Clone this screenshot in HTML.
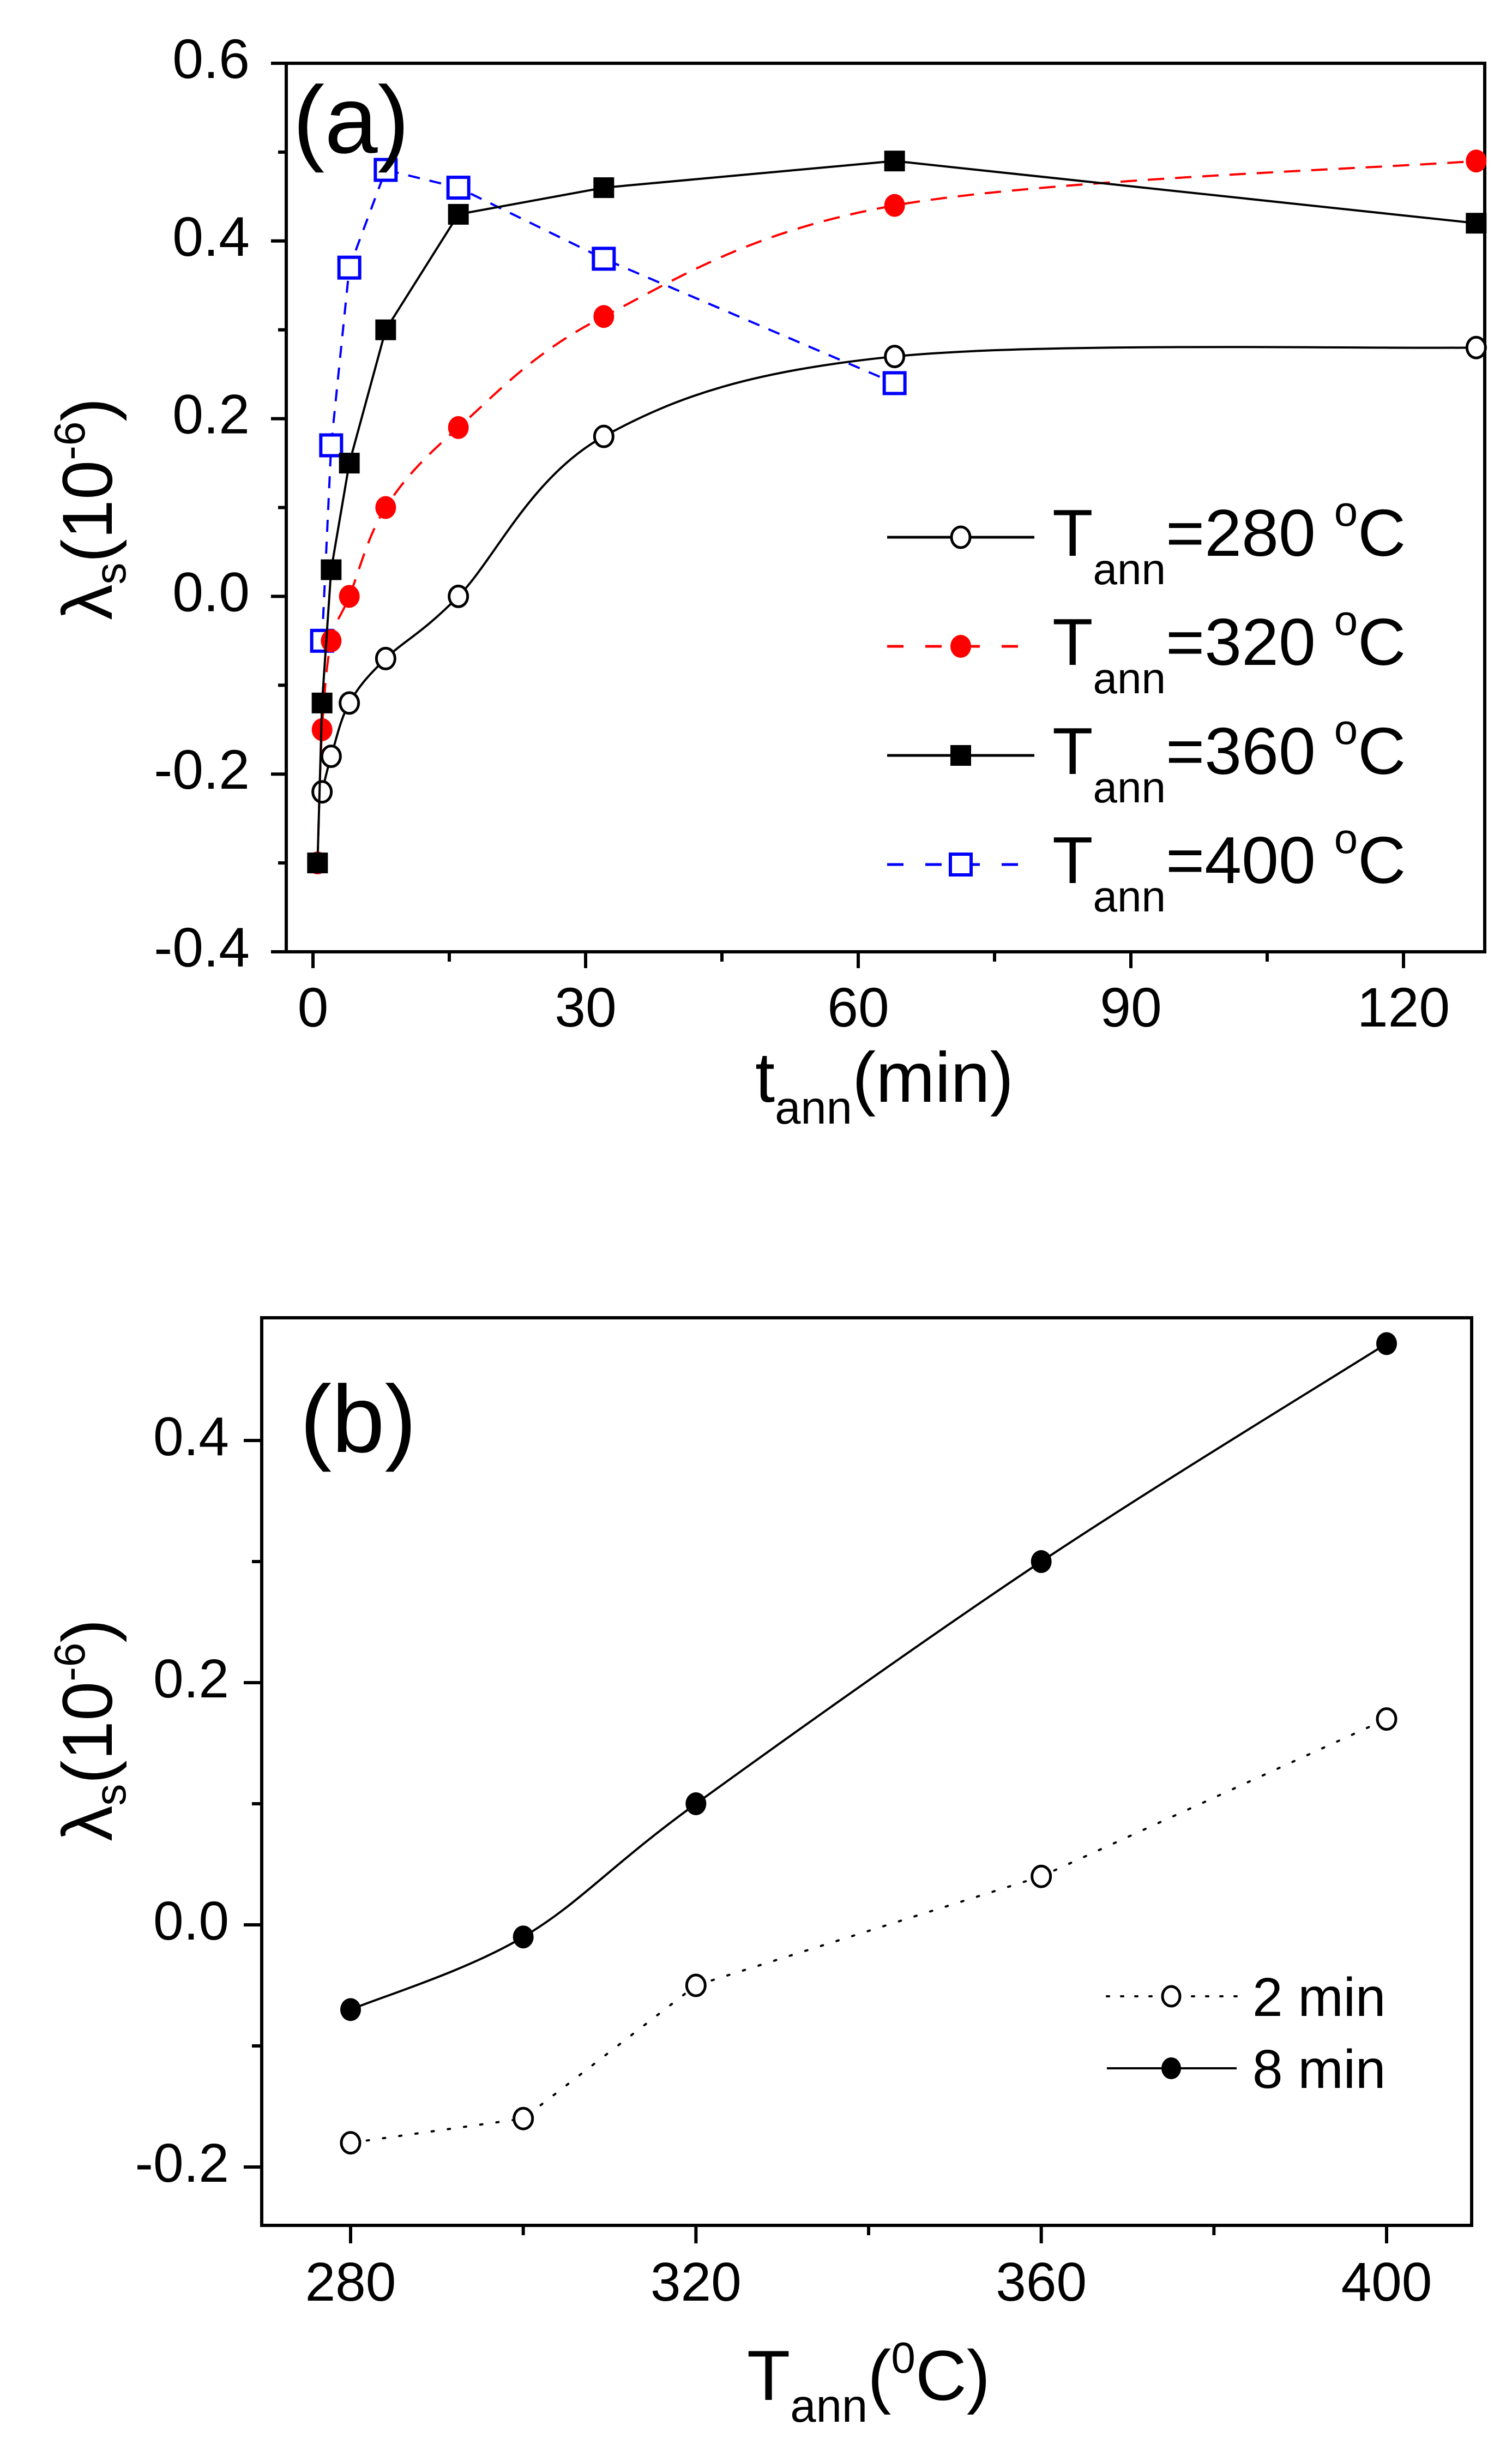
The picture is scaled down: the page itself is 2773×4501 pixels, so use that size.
<!DOCTYPE html>
<html><head><meta charset="utf-8">
<style>
html,body{margin:0;padding:0;background:#fff;}
svg{display:block;}
text{font-family:"Liberation Sans",Arial,sans-serif;fill:#000;}
</style></head>
<body>
<svg id="fig" width="2773" height="4501" viewBox="0 0 2773 4501" xmlns="http://www.w3.org/2000/svg">
<rect width="2773" height="4501" fill="#fff"/>
<g id="pa"></g>
<g id="pb"></g>
</svg>
<script>
// ---------- Panel (a) data ----------
const tA280 = [1, 2, 4, 8, 16, 32, 64, 128];
const yA280 = [-0.22, -0.18, -0.12, -0.07, 0.0, 0.18, 0.27, 0.28];
const tA320 = [0.5, 1, 2, 4, 8, 16, 32, 64, 128];
const yA320 = [-0.30, -0.15, -0.05, 0.0, 0.10, 0.19, 0.315, 0.44, 0.49];
const tA360 = [0.5, 1, 2, 4, 8, 16, 32, 64, 128];
const yA360 = [-0.30, -0.12, 0.03, 0.15, 0.30, 0.43, 0.46, 0.49, 0.42];
const tA400 = [1, 2, 4, 8, 16, 32, 64];
const yA400 = [-0.05, 0.17, 0.37, 0.48, 0.46, 0.38, 0.24];
const xTicksA = [0, 30, 60, 90, 120];
const yTicksA = [-0.4, -0.2, 0.0, 0.2, 0.4, 0.6];
const yTickLabelsA = ["-0.4", "-0.2", "0.0", "0.2", "0.4", "0.6"];
// ---------- Panel (b) data ----------
const tempB = [280, 300, 320, 360, 400];
const yB2 = [-0.18, -0.16, -0.05, 0.04, 0.17];
const yB8 = [-0.07, -0.01, 0.10, 0.30, 0.48];
const xTicksB = [280, 320, 360, 400];
const yTicksB = [-0.2, 0.0, 0.2, 0.4];
const yTickLabelsB = ["-0.2", "0.0", "0.2", "0.4"];

const NS = "http://www.w3.org/2000/svg";
function mk(parent, tag, attrs) {
  const e = document.createElementNS(NS, tag);
  for (const k in attrs) e.setAttribute(k, attrs[k]);
  parent.appendChild(e);
  return e;
}
// axis functions
const xA = t => 574 + t * (2000 / 120);
const yA = v => 116 + (0.6 - v) * 1629;
const xB = T => 643 + (T - 280) * (1900 / 120);
const yB = v => 2641 + (0.4 - v) * 2220;

function smoothPath(pts) {
  let d = "M" + pts[0][0] + "," + pts[0][1];
  for (let i = 0; i < pts.length - 1; i++) {
    const p0 = pts[i - 1] || pts[i], p1 = pts[i], p2 = pts[i + 1], p3 = pts[i + 2] || p2;
    const c1x = p1[0] + (p2[0] - p0[0]) / 6, c1y = p1[1] + (p2[1] - p0[1]) / 6;
    const c2x = p2[0] - (p3[0] - p1[0]) / 6, c2y = p2[1] - (p3[1] - p1[1]) / 6;
    d += " C" + c1x + "," + c1y + " " + c2x + "," + c2y + " " + p2[0] + "," + p2[1];
  }
  return d;
}
function linePath(pts) { return "M" + pts.map(p => p[0] + "," + p[1]).join(" L"); }

function marker(g, kind, x, y, color, s) {
  let e;
  if (kind === "osq") e = mk(g, "rect", {x: x - s / 2, y: y - s / 2, width: s, height: s, fill: "#fff", stroke: color, "stroke-width": 6});
  else if (kind === "fsq") e = mk(g, "rect", {x: x - s / 2, y: y - s / 2, width: s, height: s, fill: color});
  else if (kind === "oc") e = mk(g, "ellipse", {cx: x, cy: y, rx: s / 2 - 2, ry: s / 2, fill: "#fff", stroke: color, "stroke-width": 5});
  else e = mk(g, "ellipse", {cx: x, cy: y, rx: s / 2, ry: s / 2 + 2, fill: color});
  return e;
}

// ================= Panel A =================
const pa = document.getElementById("pa");
const frameA = mk(pa, "rect", {x: 525, y: 116, width: 2198, height: 1629, fill: "none", stroke: "#000", "stroke-width": 6});


yTicksA.forEach((v, i) => {
  const t = mk(pa, "line", {x1: 497, x2: 525, y1: yA(v), y2: yA(v), stroke: "#000", "stroke-width": 6});
  
  
  if (i < yTicksA.length - 1) {
    const m = mk(pa, "line", {x1: 510, x2: 525, y1: yA(v + 0.1), y2: yA(v + 0.1), stroke: "#000", "stroke-width": 6});
    
    
  }
  const l = mk(pa, "text", {x: 458, y: yA(v) + 27, "font-size": 102, "text-anchor": "end"});
  l.textContent = yTickLabelsA[i];
  
  
});
xTicksA.forEach((v, i) => {
  const t = mk(pa, "line", {x1: xA(v), x2: xA(v), y1: 1745, y2: 1775, stroke: "#000", "stroke-width": 6});
  
  
  const m = mk(pa, "line", {x1: xA(v + 15), x2: xA(v + 15), y1: 1745, y2: 1763, stroke: "#000", "stroke-width": 6});
  
  
  const l = mk(pa, "text", {x: xA(v), y: 1882, "font-size": 102, "text-anchor": "middle"});
  l.textContent = String(v);
  
  
});
// series A
const seriesA = [
  {name: "series-280C", t: tA280, y: yA280, color: "#000", dash: "", kind: "oc", smooth: true},
  {name: "series-400C", t: tA400, y: yA400, color: "#0000ff", dash: "22,18", kind: "osq", smooth: false},
  {name: "series-320C", t: tA320, y: yA320, color: "#ff0000", dash: "30,20", kind: "fc", smooth: true},
  {name: "series-360C", t: tA360, y: yA360, color: "#000", dash: "", kind: "fsq", smooth: false}
];
seriesA.forEach(s => {
  const g = mk(pa, "g", {});
  
  
  const pts = s.t.map((t, i) => [xA(t), yA(s.y[i])]);
  const p = mk(g, "path", {d: s.smooth ? smoothPath(pts) : linePath(pts), fill: "none", stroke: s.color, "stroke-width": 4, "stroke-dasharray": s.dash});
  
  
  pts.forEach(pt => {
    const m = marker(g, s.kind, pt[0], pt[1], s.color, 38);
    
    
  });
});
// panel label
const labA = mk(pa, "text", {x: 537, y: 280, "font-size": 175});
labA.textContent = "(a)";


// legend A
const legA = [
  {num: "280", color: "#000", dash: "", kind: "oc", y: 985},
  {num: "320", color: "#ff0000", dash: "30,40", kind: "fc", y: 1185},
  {num: "360", color: "#000", dash: "", kind: "fsq", y: 1385},
  {num: "400", color: "#0000ff", dash: "30,40", kind: "osq", y: 1585}
];
legA.forEach(L => {
  const g = mk(pa, "g", {});
  
  
  mk(g, "line", {x1: 1627, x2: 1897, y1: L.y, y2: L.y, stroke: L.color, "stroke-width": 5, "stroke-dasharray": L.dash});
  marker(g, L.kind, 1762, L.y, L.color, 38);
  const tx = mk(g, "text", {x: 1930, y: L.y + 34, "font-size": 122});
  tx.innerHTML = 'T<tspan font-size="80" dy="52">ann</tspan><tspan dy="-52">=' + L.num + ' </tspan><tspan font-size="78" dy="-55">o</tspan><tspan dy="55">C</tspan>';
});
// axis titles A
const ytA = mk(pa, "text", {"font-size": 130, "text-anchor": "middle", transform: "translate(205,933) rotate(-90)"});
ytA.innerHTML = 'λ<tspan font-size="80" dy="25">s</tspan><tspan dy="-25">(10</tspan><tspan font-size="80" dy="-50">-6</tspan><tspan dy="50">)</tspan>';


const xtA = mk(pa, "text", {x: 1622, y: 2020, "font-size": 130, "text-anchor": "middle"});
xtA.innerHTML = 't<tspan font-size="85" dy="40">ann</tspan><tspan dy="-40">(min)</tspan>';



// ================= Panel B =================
const pb = document.getElementById("pb");
const frameB = mk(pb, "rect", {x: 480, y: 2416, width: 2219, height: 1664, fill: "none", stroke: "#000", "stroke-width": 6});


yTicksB.forEach((v, i) => {
  const t = mk(pb, "line", {x1: 447, x2: 480, y1: yB(v), y2: yB(v), stroke: "#000", "stroke-width": 6});
  
  
  if (i < yTicksB.length - 1) {
    const m = mk(pb, "line", {x1: 462, x2: 480, y1: yB(v + 0.1), y2: yB(v + 0.1), stroke: "#000", "stroke-width": 6});
    
    
  }
  const l = mk(pb, "text", {x: 420, y: yB(v) + 27, "font-size": 100, "text-anchor": "end"});
  l.textContent = yTickLabelsB[i];
  
  
});
xTicksB.forEach((v, i) => {
  const t = mk(pb, "line", {x1: xB(v), x2: xB(v), y1: 4080, y2: 4113, stroke: "#000", "stroke-width": 6});
  
  
  if (i < xTicksB.length - 1) {
    const m = mk(pb, "line", {x1: xB(v + 20), x2: xB(v + 20), y1: 4080, y2: 4098, stroke: "#000", "stroke-width": 6});
    
    
  }
  const l = mk(pb, "text", {x: xB(v), y: 4218, "font-size": 100, "text-anchor": "middle"});
  l.textContent = String(v);
  
  
});
const seriesB = [
  {name: "series-2min", y: yB2, kind: "oc", dash: "4,26", cap: "round", smooth: false},
  {name: "series-8min", y: yB8, kind: "fc", dash: "", cap: "butt", smooth: true}
];
seriesB.forEach(s => {
  const g = mk(pb, "g", {});
  
  
  const pts = tempB.map((T, i) => [xB(T), yB(s.y[i])]);
  const p = mk(g, "path", {d: s.smooth ? smoothPath(pts) : linePath(pts), fill: "none", stroke: "#000", "stroke-width": 4, "stroke-dasharray": s.dash, "stroke-linecap": s.cap});
  
  
  pts.forEach(pt => {
    const m = marker(g, s.kind, pt[0], pt[1], "#000", 38);
    
    
  });
});
const labB = mk(pb, "text", {x: 550, y: 2662, "font-size": 175});
labB.textContent = "(b)";


const legB = [
  {txt: "2 min", kind: "oc", dash: "4,22", cap: "round", y: 3660},
  {txt: "8 min", kind: "fc", dash: "", cap: "butt", y: 3792}
];
legB.forEach(L => {
  const g = mk(pb, "g", {});
  
  
  mk(g, "line", {x1: 2030, x2: 2268, y1: L.y, y2: L.y, stroke: "#000", "stroke-width": 4, "stroke-dasharray": L.dash, "stroke-linecap": L.cap});
  marker(g, L.kind, 2148, L.y, "#000", 36);
  const tx = mk(g, "text", {x: 2297, y: L.y + 36, "font-size": 100});
  tx.textContent = L.txt;
});
const ytB = mk(pb, "text", {"font-size": 130, "text-anchor": "middle", transform: "translate(205,3172) rotate(-90)"});
ytB.innerHTML = 'λ<tspan font-size="80" dy="25">s</tspan><tspan dy="-25">(10</tspan><tspan font-size="80" dy="-50">-6</tspan><tspan dy="50">)</tspan>';


const xtB = mk(pb, "text", {x: 1593, y: 4400, "font-size": 130, "text-anchor": "middle"});
xtB.innerHTML = 'T<tspan font-size="85" dy="40">ann</tspan><tspan dy="-40">(</tspan><tspan font-size="80" dy="-50">0</tspan><tspan dy="50">C)</tspan>';


</script>
</body></html>
